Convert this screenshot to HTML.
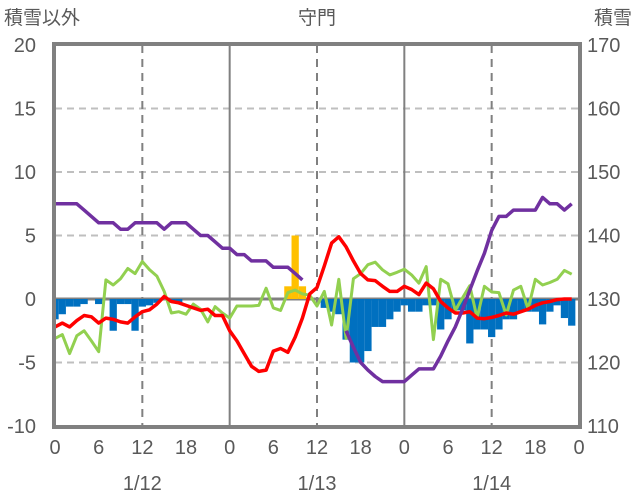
<!DOCTYPE html>
<html><head><meta charset="utf-8"><style>
html,body{margin:0;padding:0;background:#fff;}
svg{display:block;font-family:"Liberation Sans","Noto Sans CJK JP",sans-serif;}
</style></head><body>
<svg id="chart" width="636" height="501" viewBox="0 0 636 501">
<g id="grid"></g>
<g id="bars"></g>
<g id="lines"></g>
<g id="frame"></g>
<g id="labels" fill="#595959" font-size="20"></g>
<text x="4" y="24" font-size="19" fill="#595959">積雪以外</text>
<text x="317" y="24" font-size="19" fill="#595959" text-anchor="middle">守門</text>
<text x="632" y="24" font-size="19" fill="#595959" text-anchor="end">積雪</text>
</svg>
<script>
const leftTicks = [20,15,10,5,0,-5,-10];
const rightTicks = [170,160,150,140,130,120,110];
const hourTicks = [0,6,12,18,0,6,12,18,0,6,12,18,0];
const dateLabels = ["1/12","1/13","1/14"];
const precipOther = [-1.6,-1.2,-0.6,-0.6,-0.4,0,-0.4,0,-2.5,-0.4,-0.4,-2.5,-0.6,-0.5,-0.3,0,-0.3,-0.3,0,0,0,0,0,0,0,0,0,0,0,0,0,0,0,0,0,0,0,-0.7,-1.0,-1.2,-3.2,-5.0,-5.0,-4.1,-2.2,-2.2,-1.6,-1.0,-0.5,-1.0,-1.0,-0.5,-0.5,-2.4,-1.6,-0.9,-0.9,-3.5,-2.4,-2.4,-3.0,-2.4,-1.6,-1.6,-1.0,-1.0,-1.0,-2.0,-1.0,-0.5,-1.5,-2.1];
const snowfall = [0,0,0,0,0,0,0,0,0,0,0,0,0,0,0,0,0,0,0,0,0,0,0,0,0,0,0,0,0,0,0,0,1,5,1,0,0,0,0,0,0,0,0,0,0,0,0,0,0,0,0,0,0,0,0,0,0,0,0,0,0,0,0,0,0,0,0,0,0,0,0,0];
const tempRed = [-2.2,-1.9,-2.2,-1.7,-1.3,-1.4,-1.9,-1.5,-1.6,-1.8,-1.9,-1.4,-1.0,-0.85,-0.4,0.2,-0.2,-0.3,-0.5,-0.7,-0.9,-0.8,-1.3,-1.3,-2.5,-3.3,-4.3,-5.3,-5.7,-5.6,-4.1,-3.9,-4.2,-3.0,-1.5,0.4,0.9,2.6,4.4,4.9,4.1,3.0,2.0,1.5,1.45,1.0,0.6,0.6,1.0,0.75,0.35,1.25,0.8,-0.2,-0.7,-1.1,-1.1,-1.0,-1.5,-1.55,-1.45,-1.3,-1.1,-1.2,-1.0,-0.8,-0.5,-0.3,-0.2,-0.05,0,0];
const greenSeries = [-3.1,-2.8,-4.3,-2.9,-2.5,-3.3,-4.15,1.5,1.1,1.6,2.4,2.0,2.95,2.3,1.8,0.6,-1.1,-1.0,-1.2,-0.4,-0.8,-1.8,-0.6,-1.1,-1.5,-0.55,-0.55,-0.55,-0.5,0.85,-0.7,-0.9,0.5,0.7,0.4,0.3,-0.55,0.6,-2.05,1.55,-3.1,1.6,2.0,2.7,2.9,2.3,1.9,2.1,2.35,1.9,1.25,2.55,-3.2,1.55,1.2,-0.9,0.1,1.05,-1.5,1.0,0.55,0.5,-1.25,0.7,1.0,-0.8,1.55,1.1,1.3,1.55,2.25,1.95];
const snowDepthA = [145,145,145,145,144,143,142,142,142,141,141,142,142,142,142,141,142,142,142,141,140,140,139,138,138,137,137,136,136,136,135,135,135,134,133];
const snowDepthAStart = 0;
const snowDepthB = [125,122.4,120,118.8,117.8,117,117,117,117,118,119,119,119,121,123.4,125.6,128.4,131.4,134.4,137.2,140.8,143,143,144,144,144,144,146,145,145,144,145];
const snowDepthBStart = 40;

const NS='http://www.w3.org/2000/svg';
const X0=55, X1=579, Y0=45, Y1=426;
const xS = h => X0 + (X1-X0)*h/72;
const yL = v => Y1 - (Y1-Y0)*(v+10)/30;
const yR = v => Y1 - (Y1-Y0)*(v-110)/60;
const hw = (X1-X0)/72;
function mk(tag, attrs, parent){const e=document.createElementNS(NS,tag);for(const k in attrs)e.setAttribute(k,attrs[k]);parent.appendChild(e);return e;}
const grid=document.getElementById('grid'), bars=document.getElementById('bars'), lines=document.getElementById('lines'), frame=document.getElementById('frame'), labels=document.getElementById('labels');

leftTicks.forEach(v=>{
  if(v!==20 && v!==-10 && v!==0){
    const l=mk('line',{x1:X0,x2:X1,y1:yL(v),y2:yL(v),stroke:'#bfbfbf','stroke-width':2,'stroke-dasharray':'7,5'},grid);
    
    
  }
});
[12,36,60].forEach(h=>{
  const l=mk('line',{x1:xS(h),x2:xS(h),y1:Y0,y2:Y1,stroke:'#808080','stroke-width':2,'stroke-dasharray':'8,6'},grid);
  
  
});
[24,48].forEach(h=>{
  const l=mk('line',{x1:xS(h),x2:xS(h),y1:Y0,y2:Y1,stroke:'#808080','stroke-width':2},grid);
  
  
});

precipOther.forEach((v,i)=>{
  if(v===0) return;
  const x=Math.max(X0,xS(i)-hw/2), x2=Math.min(X1,xS(i)+hw/2);
  const r=mk('rect',{x:x,y:yL(0),width:x2-x,height:yL(v)-yL(0),fill:'#0070C0'},bars);
  
  
});
snowfall.forEach((v,i)=>{
  if(v===0) return;
  const r=mk('rect',{x:xS(i)-hw/2,y:yL(v),width:hw,height:yL(0)-yL(v),fill:'#FFC000'},bars);
  
  
});

const z=mk('line',{x1:X0,x2:X1,y1:yL(0),y2:yL(0),stroke:'#808080','stroke-width':3},grid);



function poly(vals,start,yf,color,w,name){
  const pts=vals.map((v,i)=>xS(start+i).toFixed(1)+','+yf(v).toFixed(1)).join(' ');
  const p=mk('polyline',{points:pts,fill:'none',stroke:color,'stroke-width':w,'stroke-linejoin':'round'},lines);
  
  
}
poly(greenSeries,0,yL,'#92D050',3,'green-series-line');
poly(tempRed,0,yL,'#FF0000',3.5,'temperature-line');
poly(snowDepthA,snowDepthAStart,yR,'#7030A0',3.5,'snow-depth-line-a');
poly(snowDepthB,snowDepthBStart,yR,'#7030A0',3.5,'snow-depth-line-b');

const fr=mk('rect',{x:X0-1,y:Y0-1,width:X1-X0+2,height:Y1-Y0+2,fill:'none',stroke:'#808080','stroke-width':4},frame);



leftTicks.forEach(v=>{
  const t=mk('text',{x:36,y:yL(v)+7,'text-anchor':'end'},labels);
  t.textContent=v;
  
  
});
rightTicks.forEach(v=>{
  const t=mk('text',{x:587,y:yL(-10+(v-110)/2)+7},labels);
  t.textContent=v;
  
  
});
hourTicks.forEach((v,i)=>{
  const t=mk('text',{x:xS(i*6),y:454,'text-anchor':'middle'},labels);
  t.textContent=v;
  
  
});
dateLabels.forEach((v,i)=>{
  const t=mk('text',{x:xS(12+24*i),y:490,'text-anchor':'middle'},labels);
  t.textContent=v;
  
  
});
</script>
</body></html>
